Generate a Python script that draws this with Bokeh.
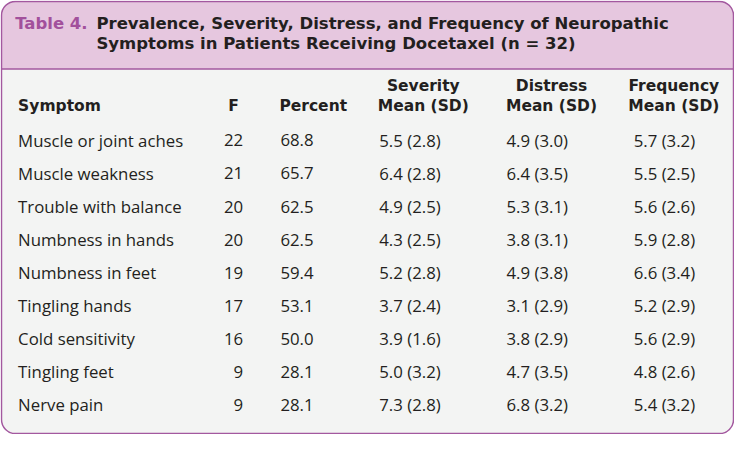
from bokeh.plotting import figure
from bokeh.models import BoxAnnotation, ColumnDataSource
from bokeh.core.properties import value
from bokeh.embed import file_html
from bokeh.resources import INLINE

title_label = "Table 4."
title_lines = ["Prevalence, Severity, Distress, and Frequency of Neuropathic",
               "Symptoms in Patients Receiving Docetaxel (n = 32)"]

col_headers_top = ["Severity", "Distress", "Frequency"]
col_headers = ["Symptom", "F", "Percent", "Mean (SD)", "Mean (SD)", "Mean (SD)"]

symptoms = ["Muscle or joint aches", "Muscle weakness", "Trouble with balance",
            "Numbness in hands", "Numbness in feet", "Tingling hands",
            "Cold sensitivity", "Tingling feet", "Nerve pain"]
freq = [22, 21, 20, 20, 19, 17, 16, 9, 9]
percent = [68.8, 65.7, 62.5, 62.5, 59.4, 53.1, 50.0, 28.1, 28.1]
severity_mean = [5.5, 6.4, 4.9, 4.3, 5.2, 3.7, 3.9, 5.0, 7.3]
severity_sd = [2.8, 2.8, 2.5, 2.5, 2.8, 2.4, 1.6, 3.2, 2.8]
distress_mean = [4.9, 6.4, 5.3, 3.8, 4.9, 3.1, 3.8, 4.7, 6.8]
distress_sd = [3.0, 3.5, 3.1, 3.1, 3.8, 2.9, 2.9, 3.5, 3.2]
frequency_mean = [5.7, 5.5, 5.6, 5.9, 6.6, 5.2, 5.6, 4.8, 5.4]
frequency_sd = [3.2, 2.5, 2.6, 2.8, 3.4, 2.9, 2.9, 2.6, 3.2]

PURPLE = "#a2509c"
BORDER = "#a3589f"
HEAD_BG = "#e6c7df"
BODY_BG = "#f3f4f3"
TXT = "#231f20"
BODY_FONT = "Open Sans"
HEAD_FONT = "DejaVu Sans"

W, H = 734, 434
p = figure(width=W, height=H, x_range=(0, 750), y_range=(450, 0),
           output_backend="svg", toolbar_location=None, min_border=0)
p.axis.visible = False
p.grid.visible = False
p.outline_line_color = None
p.background_fill_color = "white"
p.border_fill_color = "white"

R = 14
p.add_layout(BoxAnnotation(left=1, right=749, top=1, bottom=449, fill_color=BODY_BG, fill_alpha=1,
                           line_color=None, border_radius=R, level="underlay"))
p.add_layout(BoxAnnotation(left=1, right=749, top=1, bottom=71, fill_color=HEAD_BG, fill_alpha=1,
                           line_color=None, border_radius=dict(top_left=R, top_right=R, bottom_right=0, bottom_left=0),
                           level="underlay"))
p.segment(x0=[1], y0=[71], x1=[749], y1=[71], line_color=BORDER, line_width=1.5)
p.add_layout(BoxAnnotation(left=1, right=749, top=1, bottom=449, fill_alpha=0,
                           line_color=BORDER, line_alpha=1, line_width=1.5, border_radius=R, level="overlay"))

head = dict(text_color=TXT, text_font=value(HEAD_FONT), text_font_style="bold",
            text_font_size="15.5px", text_baseline="middle")
title_style = {**head, "text_font_size": "16.5px"}

# title
p.text(x=[15], y=[24], text=[title_label], **{**title_style, "text_color": PURPLE})
p.text(x=[98, 98], y=[24, 45], text=title_lines, **title_style)

# column headers
hy = 109
hy_top = 89
p.text(x=[18], y=[hy], text=[col_headers[0]], **head)
p.text(x=[238], y=[hy], text=[col_headers[1]], text_align="center", **head)
p.text(x=[285], y=[hy], text=[col_headers[2]], **head)
cx = [432, 563, 688]
p.text(x=cx, y=[hy_top] * 3, text=col_headers_top, text_align="center", **head)
p.text(x=cx, y=[hy] * 3, text=col_headers[3:], text_align="center", **head)

# body
y0, pitch = 145, 34.3
ys = [y0 + i * pitch for i in range(len(symptoms))]
src = ColumnDataSource(dict(
    y=ys, sym=symptoms, f=[str(v) for v in freq], pct=[f"{v:.1f}" for v in percent],
    sev=[f"{m:.1f} ({s:.1f})" for m, s in zip(severity_mean, severity_sd)],
    dis=[f"{m:.1f} ({s:.1f})" for m, s in zip(distress_mean, distress_sd)],
    fre=[f"{m:.1f} ({s:.1f})" for m, s in zip(frequency_mean, frequency_sd)],
))
common = dict(source=src, text_color=TXT, text_font=value(BODY_FONT), text_font_size="16.8px",
              text_baseline="middle")
p.text(x=18, y="y", text="sym", **common)
p.text(x=248, y="y", text="f", text_align="right", **common)
p.text(x=286, y="y", text="pct", **common)
p.text(x=387, y="y", text="sev", **common)
p.text(x=517, y="y", text="dis", **common)
p.text(x=647, y="y", text="fre", **common)

open("out.html", "w").write(file_html(p, INLINE))
